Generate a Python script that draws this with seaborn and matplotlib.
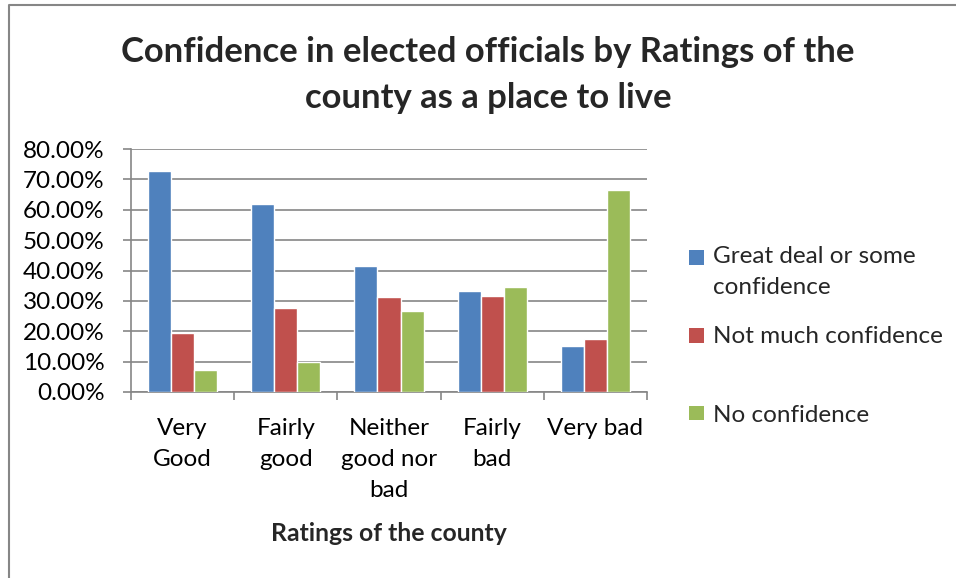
import matplotlib
matplotlib.use("Agg")
import matplotlib.pyplot as plt
import seaborn as sns
import pandas as pd
from matplotlib.patches import Patch, Rectangle
from matplotlib.legend_handler import HandlerPatch
from matplotlib.lines import Line2D
from matplotlib.ticker import FixedLocator, FuncFormatter

# Survey results: share of respondents (%) by county rating
ratings = ["Very\nGood", "Fairly\ngood", "Neither\ngood nor\nbad", "Fairly\nbad", "Very bad"]
series = ["Great deal or some\nconfidence", "Not much confidence", "No confidence"]
great_deal = [72.7, 61.8, 41.4, 33.1, 15.3]
not_much = [19.5, 27.7, 31.2, 31.6, 17.6]
no_confidence = [7.3, 10.0, 26.8, 34.5, 66.6]
y_ticks = [0, 10, 20, 30, 40, 50, 60, 70, 80]
colors = ["#4F81BD", "#C0504D", "#9BBB59"]

title = "Confidence in elected officials by Ratings of the\ncounty as a place to live"
x_label = "Ratings of the county"

rows = []
for name, vals in zip(series, [great_deal, not_much, no_confidence]):
    for r, v in zip(ratings, vals):
        rows.append({"rating": r, "series": name, "value": v})
df = pd.DataFrame(rows)

sns.set_theme(style="white")
plt.rcParams["font.family"] = ["Lato", "DejaVu Sans"]

W, H = 956, 578
fig = plt.figure(figsize=(W / 100, H / 100), dpi=100)
ax = fig.add_axes([131 / W, 1 - 392 / H, (647 - 131) / W, (392 - 149) / H])

grid_c = "#868686"
label_size = 17.5
line_sp = 1.6

sns.barplot(data=df, x="rating", y="value", hue="series", order=ratings,
            hue_order=series, palette=colors, saturation=1, width=0.67,
            legend=False, ax=ax, zorder=3)

ax.set_ylim(0, 80)
ax.set_xlim(-0.5, len(ratings) - 0.5)
ax.yaxis.set_major_locator(FixedLocator(y_ticks))
ax.yaxis.set_major_formatter(FuncFormatter(lambda v, p: f"{v:.2f}%"))
ax.grid(axis="y", color=grid_c, linewidth=1.2, zorder=0)
ax.set_axisbelow(True)
for s in ["top", "right"]:
    ax.spines[s].set_visible(False)
for s in ["left", "bottom"]:
    ax.spines[s].set_color(grid_c)
    ax.spines[s].set_linewidth(1.2)

ax.tick_params(axis="y", which="major", direction="out", length=6, width=1.2,
               color=grid_c, pad=13, labelsize=label_size, labelcolor="black",
               left=True)
ax.xaxis.set_minor_locator(FixedLocator([i - 0.5 for i in range(len(ratings) + 1)]))
ax.tick_params(axis="x", which="minor", direction="out", length=6, width=1.2,
               color=grid_c, bottom=True)
ax.tick_params(axis="x", which="major", length=0, pad=18.5, labelsize=label_size,
               labelcolor="black")
for t in ax.get_xticklabels():
    t.set_linespacing(line_sp)

ax.set_xlabel(x_label, fontsize=17.8, fontweight="bold", labelpad=15)
ax.set_ylabel("")

fig.text(488 / W, 1 - 75 / H, title, ha="center", va="center",
         fontsize=24.9, fontweight="bold", linespacing=1.5)


# Swatch placement: square sitting on the baseline of the chosen label line
def swatch(line):
    def make(legend, orig_handle, xdescent, ydescent, width, height, fontsize):
        r = legend.figure.canvas.get_renderer()
        _, lh, ld = r.get_text_width_height_descent("lp", legend.prop, ismath=False)
        k = 72 / legend.figure.dpi
        asc, desc = (lh - ld) * k, ld * k
        step = asc * line_sp
        if line == "first":
            y0 = step / 2 + desc / 2
        elif line == "last":
            y0 = -(step / 2 - desc / 2)
        else:
            y0 = 0
        return Rectangle((-xdescent, y0), width, width)
    return HandlerPatch(patch_func=make)


handles = [Patch(facecolor=c, edgecolor="none") for c in colors]
labels = [series[0], series[1], "\n" + series[2]]
leg = fig.legend(handles, labels, loc="upper left",
                 bbox_to_anchor=(689 / W, 1 - 246 / H), frameon=False,
                 fontsize=label_size, handlelength=0.6, handleheight=0.6,
                 handletextpad=0.4, labelspacing=1.13, borderpad=0,
                 borderaxespad=0,
                 handler_map={handles[0]: swatch("first"),
                              handles[1]: swatch("single"),
                              handles[2]: swatch("last")})
for t in leg.get_texts():
    t.set_linespacing(line_sp)

# Chart-area border
fig.add_artist(Line2D([9 / W, 9 / W, 1.0], [0.0, 1 - 5 / H, 1 - 5 / H],
                      transform=fig.transFigure, color=grid_c, linewidth=1.5))

fig.savefig("out.png", dpi=100)
